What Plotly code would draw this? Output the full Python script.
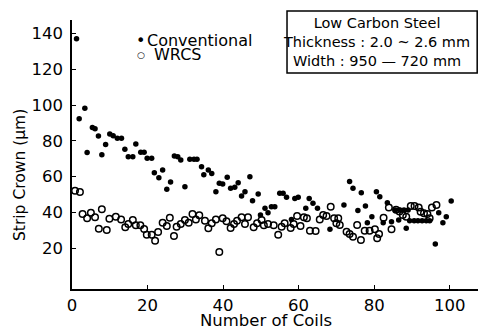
import plotly.graph_objects as go

# ---- data ----
conv_coils = [1.2, 1.9, 3.4, 4.0, 5.4, 6.1, 7.0, 7.9, 8.9, 10.0, 10.9, 12.0, 13.1, 14.0, 14.9, 16.1,
              16.9, 18.2, 19.1, 19.9, 21.1, 21.8, 23.0, 24.0, 25.1, 26.1, 27.1, 28.0, 28.8, 29.9,
              31.2, 32.3, 33.1, 34.3, 34.9, 36.1, 37.0, 38.1, 39.0, 39.9, 41.1, 42.0, 43.1, 44.0,
              44.9, 45.8, 47.1, 47.8, 49.3, 49.9, 51.1, 51.9, 52.8, 53.7, 55.0, 55.9, 56.8, 58.1,
              59.0, 59.9, 61.9, 62.8, 63.8, 65.0, 68.3, 72.0, 73.5, 74.4, 75.7, 76.6, 77.7, 78.2,
              79.4, 80.6, 81.5, 82.4, 83.5, 84.6, 85.6, 86.5, 86.8, 87.9, 88.5, 89.0, 89.4, 90.6,
              91.6, 92.7, 93.8, 94.7, 96.2, 97.1, 98.2, 99.1, 100.4]
conv_crown = [137.0, 92.3, 98.2, 73.4, 87.5, 86.8, 82.7, 72.2, 78.0, 83.8, 82.8, 81.4, 81.4, 75.3, 71.1, 71.1,
              78.2, 73.6, 73.6, 70.2, 70.2, 62.2, 59.4, 63.7, 52.9, 57.0, 71.5, 71.1, 69.3, 54.4,
              69.7, 69.7, 69.7, 65.5, 61.1, 63.7, 61.8, 51.6, 56.3, 55.9, 59.6, 53.5, 54.0, 56.6,
              49.2, 51.6, 59.9, 46.5, 50.3, 38.5, 42.3, 39.8, 43.2, 43.2, 50.7, 50.7, 48.4, 36.1,
              47.7, 48.4, 42.3, 47.7, 45.1, 42.3, 30.6, 44.1, 57.2, 53.5, 41.0, 51.0, 43.6, 34.2,
              37.6, 51.6, 48.8, 34.2, 45.4, 34.8, 41.3, 35.8, 41.3, 41.3, 31.1, 41.3, 35.4, 35.4,
              35.4, 35.4, 35.4, 35.4, 22.3, 39.8, 34.2, 37.6, 46.4]

wrcs_coils = [0.8, 2.1, 2.8, 4.0, 5.0, 6.1, 7.1, 7.9, 9.2, 9.9, 11.6, 13.0, 14.1, 14.9, 16.1, 16.9,
              18.1, 19.1, 19.8, 21.1, 22.0, 22.8, 24.0, 25.1, 25.9, 27.0, 27.7, 28.8, 29.9, 30.9,
              31.9, 32.8, 33.7, 35.2, 36.1, 37.0, 38.1, 39.0, 39.9, 40.9, 42.0, 42.9, 43.7, 44.9,
              45.8, 46.6, 48.1, 49.0, 50.2, 50.8, 51.9, 53.4, 54.6, 55.5, 56.3, 57.9, 58.7, 59.6,
              60.5, 61.4, 62.2, 63.0, 64.5, 65.6, 66.5, 67.4, 68.5, 69.4, 70.0, 70.5, 70.9, 72.7,
              73.5, 74.4, 75.5, 76.5, 77.5, 78.8, 80.2, 80.8, 81.3, 82.5, 83.9, 84.6, 85.8, 86.7,
              87.6, 88.5, 89.7, 90.7, 91.8, 92.3, 93.2, 94.1, 94.7, 95.3, 96.5]
wrcs_crown = [52.1, 51.4, 39.1, 36.7, 39.8, 37.3, 30.9, 41.7, 30.2, 36.5, 37.6, 36.1, 31.7, 33.5, 35.8, 32.8,
              32.8, 30.7, 27.5, 27.5, 24.2, 29.1, 34.2, 32.4, 37.0, 26.8, 32.0, 33.5, 35.8, 34.2,
              39.1, 36.1, 38.4, 35.4, 31.1, 33.9, 36.1, 17.9, 36.7, 35.0, 31.3, 33.5, 35.4, 37.3,
              33.5, 37.3, 31.7, 33.9, 35.8, 32.8, 33.5, 32.8, 27.5, 32.0, 33.9, 31.3, 33.5, 38.0,
              32.4, 37.3, 36.7, 29.8, 29.6, 36.1, 38.5, 38.0, 43.2, 36.7, 33.9, 36.7, 33.0, 29.2,
              27.9, 26.4, 33.0, 24.6, 29.8, 29.8, 30.6, 25.5, 27.9, 37.0, 42.8, 30.6, 41.5, 40.5,
              38.5, 37.6, 43.6, 43.6, 42.8, 40.4, 39.5, 39.1, 36.7, 42.8, 44.1]

x_ticks = [0, 20, 40, 60, 80, 100]
y_ticks = [20, 40, 60, 80, 100, 120, 140]

FONT = "DejaVu Sans"

fig = go.Figure()
fig.add_trace(go.Scatter(
    x=conv_coils, y=conv_crown, mode="markers", name="Conventional",
    marker=dict(symbol="circle", size=5.5, color="black", line=dict(width=0)),
))
fig.add_trace(go.Scatter(
    x=wrcs_coils, y=wrcs_crown, mode="markers", name="WRCS",
    marker=dict(symbol="circle-open", size=6.5, color="black", line=dict(width=1.5)),
))

axis_common = dict(
    showline=True, linecolor="black", linewidth=1.5, showgrid=False, zeroline=False,
    ticks="inside", ticklen=4, tickwidth=1.2, tickcolor="black",
    tickfont=dict(family=FONT, size=16.5, color="black"),
)
fig.update_xaxes(range=[0, 107.5], tickvals=x_ticks, ticklabelstandoff=0, **axis_common)
fig.update_yaxes(range=[-2.8, 147.5], tickvals=y_ticks, ticklabelstandoff=4, **axis_common)


def note(text, x, y, size, xanchor="left", **kw):
    return dict(text=text, xref="paper", yref="paper", x=x, y=y, xanchor=xanchor,
                yanchor="middle", showarrow=False,
                font=dict(family=FONT, size=size, color="black"), **kw)


fig.update_layout(
    width=479, height=331,
    margin=dict(l=72, r=1, t=20, b=42),
    plot_bgcolor="white", paper_bgcolor="white",
    font=dict(family=FONT, color="black"),
    showlegend=False,
    shapes=[dict(type="rect", xref="paper", yref="paper",
                 x0=0.5296, x1=0.998, y0=0.803, y1=1.0335,
                 line=dict(color="black", width=1.5))],
    annotations=[
        note("Low Carbon Steel<br>Thickness : 2.0 ~ 2.6 mm<br>Width : 950 — 720 mm",
             0.751, 0.918, 14.5, xanchor="center", align="center"),
        # legend
        note("•", 0.1697, 0.923, 16, xanchor="center"),
        note("Conventional", 0.1798, 0.923, 16),
        note("○", 0.1697, 0.870, 9, xanchor="center"),
        note("WRCS", 0.1970, 0.870, 16),
        # axis titles
        note("Number of Coils", 0.478, -0.1165, 16.5, xanchor="center", borderpad=0),
        note("Strip Crown (μm)", -0.128, 0.424, 15.5, xanchor="center", textangle=-90),
    ],
)

fig.write_html(
    "out.html",
    config={"displayModeBar": False},
    post_script="document.body.style.margin='0';document.body.style.padding='0';",
)
